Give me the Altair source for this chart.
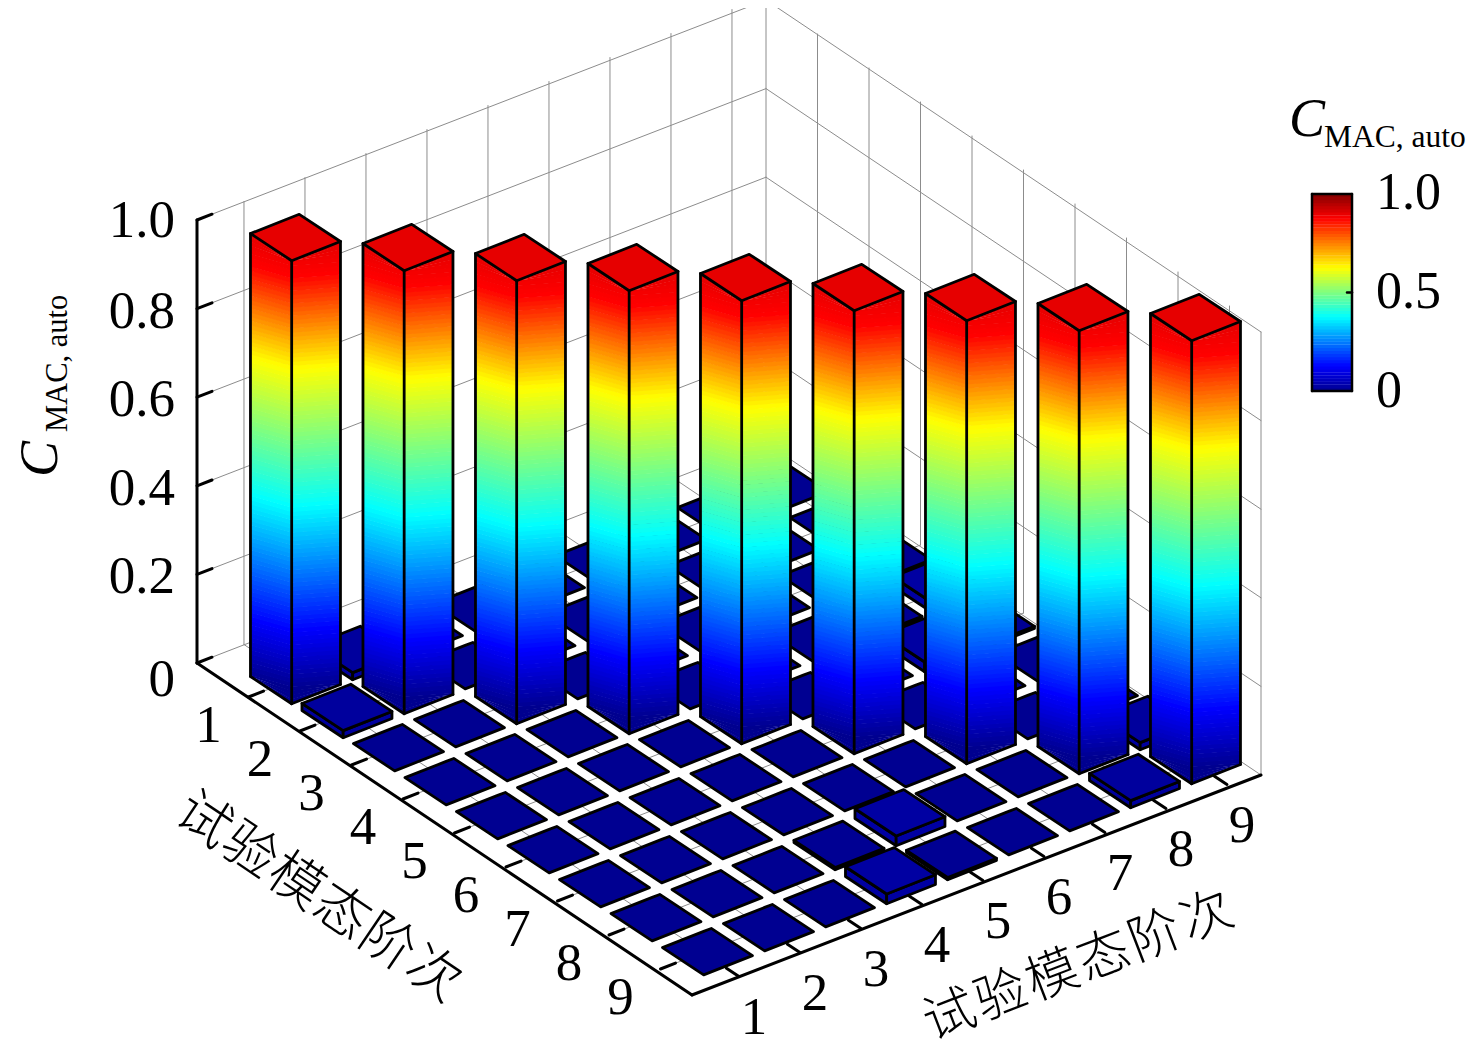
import altair as alt
import numpy as np
import pandas as pd

# --- values -----------------------------------------------------------------
mac_rows = [
    [1.000, 0.016, 0.002, 0.002, 0.002, 0.002, 0.002, 0.002, 0.002],
    [0.016, 1.000, 0.002, 0.002, 0.002, 0.002, 0.002, 0.002, 0.002],
    [0.002, 0.002, 1.000, 0.002, 0.002, 0.002, 0.002, 0.002, 0.002],
    [0.002, 0.002, 0.002, 1.000, 0.002, 0.002, 0.002, 0.005, 0.022],
    [0.002, 0.002, 0.002, 0.002, 1.000, 0.002, 0.002, 0.022, 0.005],
    [0.002, 0.002, 0.002, 0.002, 0.002, 1.000, 0.002, 0.002, 0.002],
    [0.002, 0.002, 0.002, 0.002, 0.002, 0.002, 1.000, 0.002, 0.002],
    [0.002, 0.002, 0.002, 0.005, 0.022, 0.002, 0.002, 1.000, 0.016],
    [0.002, 0.002, 0.002, 0.022, 0.005, 0.002, 0.002, 0.016, 1.000],
]
order_labels = ["1", "2", "3", "4", "5", "6", "7", "8", "9"]
z_ticks = [0.0, 0.2, 0.4, 0.6, 0.8, 1.0]
z_tick_labels = ["0", "0.2", "0.4", "0.6", "0.8", "1.0"]
cbar_labels = ["0", "0.5", "1.0"]
axis_title_chars = ["试", "验", "模", "态", "阶", "次"]
title_c = "C"
title_sub = "MAC, auto"
jet_stops = [0, 0.125, 0.375, 0.625, 0.875, 1]
jet_colors = ["#00008f", "#0000ff", "#00ffff", "#ffff00", "#ff0000", "#800000"]
bar_height_stops = [0.0, 0.13, 0.41, 0.72, 0.93, 1.0]
bar_colour_stops = [0.0, 0.125, 0.375, 0.625, 0.875, 0.90]

# --- orthographic view of the 3-D box ----------------------------------------
L = (197.0, 663.0)
EA = (51.5, 34.0)
EB = (61.0, -24.0)
B0 = 0.23
SPAN_B = (569.0, -220.0)
SPAN_A = (495.0, 332.0)
ZS = 443.0
HALF = 0.4
EDGE_LAG = 0.035
CELL_DY = 2.0


def bar_colour(z):
    return float(np.interp(z, bar_height_stops, bar_colour_stops))


def proj(a, b, z=0.0):
    return (
        L[0] + a * EA[0] + (b - B0) * EB[0],
        L[1] + a * EA[1] + (b - B0) * EB[1] - z * ZS,
    )


def polygon_rows(verts, pid, c):
    xs = sorted({round(v[0], 3) for v in verts})
    rows = []
    n = len(verts)
    for x in xs:
        ys = []
        for i in range(n):
            (x0, y0), (x1, y1) = verts[i], verts[(i + 1) % n]
            lo, hi = min(x0, x1) - 0.002, max(x0, x1) + 0.002
            if lo <= x <= hi:
                if abs(x1 - x0) < 0.004:
                    ys += [y0, y1]
                else:
                    ys.append(y0 + (y1 - y0) * (x - x0) / (x1 - x0))
        rows.append({"x": x, "y": min(ys), "y2": max(ys), "id": pid, "c": c})
    return rows


def corners(a, b, z):
    pts = {
        "l": proj(a - HALF, b - HALF, z),
        "f": proj(a + HALF, b - HALF, z),
        "r": proj(a + HALF, b + HALF, z),
        "k": proj(a - HALF, b + HALF, z),
    }
    return {k: (v[0], v[1] + CELL_DY) for k, v in pts.items()}


def seg(p, q):
    return {"x": p[0], "y": p[1], "x2": q[0], "y2": q[1]}


# --- pads ---------------------------------------------------------------------
def pad_rows(cells):
    rows = []
    for a, b, z in cells:
        c = bar_colour(z)
        base, top = corners(a, b, 0), corners(a, b, z)
        if z > 0.004:
            rows += polygon_rows([base["l"], base["f"], top["f"], top["l"]], f"p{a}-{b}L", c)
            rows += polygon_rows([base["f"], base["r"], top["r"], top["f"]], f"p{a}-{b}R", c)
        rows += polygon_rows([top["l"], top["f"], top["r"], top["k"]], f"p{a}-{b}T", c)
    return rows


cells = [
    (a + 1, b + 1, mac_rows[a][b])
    for a in range(9)
    for b in range(9)
    if a != b
]
back = sorted([t for t in cells if t[0] < t[1]], key=lambda t: t[0] - t[1])
front = sorted([t for t in cells if t[0] > t[1]], key=lambda t: t[0] - t[1])

# --- bars ----------------------------------------------------------------------
N_BANDS = 110
band_rows, top_rows, bar_lines = [], [], []


def clip(z, h):
    return min(h, max(0.0, z))


for i in range(9):
    a = b = i + 1
    h = mac_rows[i][i]
    base, top = corners(a, b, 0), corners(a, b, h)
    span = h + EDGE_LAG
    for k in range(N_BANDS):
        e0 = -EDGE_LAG + span * k / N_BANDS
        e1 = -EDGE_LAG + span * (k + 1) / N_BANDS + 0.0015
        c = bar_colour(max(0.0, (e0 + e1) / 2))
        el0, el1 = corners(a, b, clip(e0, h)), corners(a, b, clip(e1, h))
        f0, f1 = corners(a, b, clip(e0 + EDGE_LAG, h)), corners(a, b, clip(e1 + EDGE_LAG, h))
        band_rows += polygon_rows([el0["l"], f0["f"], f1["f"], el1["l"]], f"b{a}L{k}", c)
        band_rows += polygon_rows([f0["f"], el0["r"], el1["r"], f1["f"]], f"b{a}R{k}", c)
    top_rows += polygon_rows([top["l"], top["f"], top["r"], top["k"]], f"t{a}", bar_colour(h))
    for key in "lfr":
        bar_lines.append(seg(base[key], top[key]))
    bar_lines.append(seg(base["l"], base["f"]))
    bar_lines.append(seg(base["f"], base["r"]))

# --- box grid and axes ----------------------------------------------------------
back_pt = (L[0] + SPAN_B[0], L[1] + SPAN_B[1])
front_pt = (L[0] + SPAN_A[0], L[1] + SPAN_A[1])
right_pt = (back_pt[0] + SPAN_A[0], back_pt[1] + SPAN_A[1])


def up(p, z):
    return (p[0], p[1] - z * ZS)


def add(p, d):
    return (p[0] + d[0], p[1] + d[1])


grid = []
for z in z_ticks:
    grid.append(seg(up(L, z), up(back_pt, z)))
    grid.append(seg(up(back_pt, z), up(right_pt, z)))
grid.append(seg(back_pt, up(back_pt, 1)))
grid.append(seg(right_pt, up(right_pt, 1)))
for n in range(1, 10):
    s = proj(0, n)
    grid.append(seg(s, up(s, 1)))
    grid.append(seg(s, add(s, SPAN_A)))
    s = proj(n, B0)
    grid.append(seg(s, add(s, SPAN_B)))
    w = (back_pt[0] + n * EA[0], back_pt[1] + n * EA[1])
    grid.append(seg(w, up(w, 1)))

axes = [seg(L, up(L, 1)), seg(L, front_pt), seg(front_pt, right_pt)]
for z in z_ticks:
    axes.append(seg(up(L, z), add(up(L, z), (15, -5.8))))
for n in range(1, 10):
    s = proj(n, B0)
    axes.append(seg(s, add(s, (15, -5.9))))
    s = add(front_pt, ((n - B0) * EB[0], (n - B0) * EB[1]))
    axes.append(seg(s, add(s, (-12.5, -8.3))))

# --- scales ---------------------------------------------------------------------
W, H = 1460, 1043
sx = alt.Scale(domain=[8, 8 + W], nice=False, zero=False)
sy = alt.Scale(domain=[8 + H, 8], nice=False, zero=False)
sc = alt.Scale(domain=jet_stops, range=jet_colors, interpolate="rgb", clamp=True)
X = alt.X("x:Q", scale=sx, axis=None)
Y = alt.Y("y:Q", scale=sy, axis=None, stack=None)
X2 = alt.X2("x2:Q")
Y2 = alt.Y2("y2:Q")
COL = alt.Color("c:Q", scale=sc, legend=None)


def rules(rows, color, width):
    return (
        alt.Chart(pd.DataFrame(rows))
        .mark_rule(color=color, strokeWidth=width, strokeCap="round")
        .encode(x=X, y=Y, x2=X2, y2=Y2)
    )


def areas(rows, **mark):
    return (
        alt.Chart(pd.DataFrame(rows))
        .mark_area(**mark)
        .encode(x=X, y=Y, y2=Y2, detail="id:N", color=COL)
    )


def texts(rows, **mark):
    return (
        alt.Chart(pd.DataFrame(rows))
        .mark_text(**mark)
        .encode(x=X, y=alt.Y("y:Q", scale=sy, axis=None), text="t:N")
    )


OUT = dict(stroke="black", strokeWidth=2.8, strokeJoin="round", opacity=1)
SERIF = "Liberation Serif"
CJK = "Noto Sans CJK SC"

# --- colour bar -------------------------------------------------------------------
CB_X0, CB_X1, CB_Y0, CB_Y1 = 1312, 1352, 391, 194
cb_n = 64
cb_rows = [
    {
        "x": CB_X0,
        "x2": CB_X1,
        "y": CB_Y0 + (CB_Y1 - CB_Y0) * k / cb_n,
        "y2": CB_Y0 + (CB_Y1 - CB_Y0) * (k + 1) / cb_n + (-0.4 if k < cb_n - 1 else 0),
        "c": (k + 0.5) / cb_n,
    }
    for k in range(cb_n)
]
colorbar = (
    alt.Chart(pd.DataFrame(cb_rows))
    .mark_rect()
    .encode(x=X, x2=X2, y=alt.Y("y:Q", scale=sy, axis=None), y2=Y2, color=COL)
)
cb_mid = (CB_Y0 + CB_Y1) / 2
cb_frame = [
    seg((CB_X0, CB_Y0), (CB_X1, CB_Y0)),
    seg((CB_X1, CB_Y0), (CB_X1, CB_Y1)),
    seg((CB_X1, CB_Y1), (CB_X0, CB_Y1)),
    seg((CB_X0, CB_Y1), (CB_X0, CB_Y0)),
    seg((CB_X1, cb_mid), (CB_X1 - 5, cb_mid)),
]

# --- text ---------------------------------------------------------------------------
z_text = [
    {"x": 175, "y": L[1] - z * ZS + (0 if z > 0 else 14) + (1 if z == 1 else 3), "t": t}
    for z, t in zip(z_ticks, z_tick_labels)
]
a_text = [
    {"x": proj(i + 1, B0)[0] - 40, "y": proj(i + 1, B0)[1] + 29, "t": t}
    for i, t in enumerate(order_labels)
]
b_text = [
    {
        "x": front_pt[0] + (i + 1 - B0) * EB[0] + 15,
        "y": front_pt[1] + (i + 1 - B0) * EB[1] + 41,
        "t": t,
    }
    for i, t in enumerate(order_labels)
]
cb_text = [
    {"x": 1376, "y": y, "t": t}
    for y, t in zip([391, 292, 193], cbar_labels)
]
left_title = [
    {"x": 203 + i * 46.0, "y": 821 + i * 30.8, "t": t}
    for i, t in enumerate(axis_title_chars)
]
right_title = [
    {"x": 950 + i * 51.4, "y": 1016 - i * 19.8, "t": t}
    for i, t in enumerate(axis_title_chars)
]

layers = [
    rules(grid, "#8c8c8c", 1.0),
    areas(pad_rows(back), **OUT),
    areas(band_rows, strokeWidth=0),
    areas(top_rows, **OUT),
    rules(bar_lines, "black", 2.8),
    areas(pad_rows(front), **OUT),
    rules(axes, "black", 3.0),
    texts(z_text, font=SERIF, fontSize=53, align="right", baseline="middle", color="black"),
    texts(a_text, font=SERIF, fontSize=53, align="center", baseline="middle", color="black"),
    texts(b_text, font=SERIF, fontSize=53, align="center", baseline="middle", color="black"),
    texts(left_title, font=CJK, fontSize=54, angle=34, fontWeight=300,
          align="center", baseline="middle", color="black"),
    texts(right_title, font=CJK, fontSize=52, angle=339, fontWeight=300,
          align="center", baseline="middle", color="black"),
    texts([{"x": 57, "y": 477, "t": title_c}], font=SERIF, fontStyle="italic", fontSize=54,
          angle=270, align="left", baseline="alphabetic", color="black"),
    texts([{"x": 67, "y": 432, "t": title_sub}], font=SERIF, fontSize=30.5,
          angle=270, align="left", baseline="alphabetic", color="black"),
    texts([{"x": 1289, "y": 136, "t": title_c}], font=SERIF, fontStyle="italic", fontSize=54,
          align="left", baseline="alphabetic", color="black"),
    texts([{"x": 1324, "y": 147, "t": title_sub}], font=SERIF, fontSize=31.5,
          align="left", baseline="alphabetic", color="black"),
    colorbar,
    rules(cb_frame, "black", 2.5),
    texts(cb_text, font=SERIF, fontSize=52, align="left", baseline="middle", color="black"),
]

chart = (
    alt.layer(*layers)
    .properties(
        width=W,
        height=H,
        padding=0,
        autosize=alt.AutoSizeParams(type="none"),
        background="white",
    )
    .configure_view(stroke=None)
)
chart.save("out.html", embed_options={"renderer": "svg", "actions": False})
